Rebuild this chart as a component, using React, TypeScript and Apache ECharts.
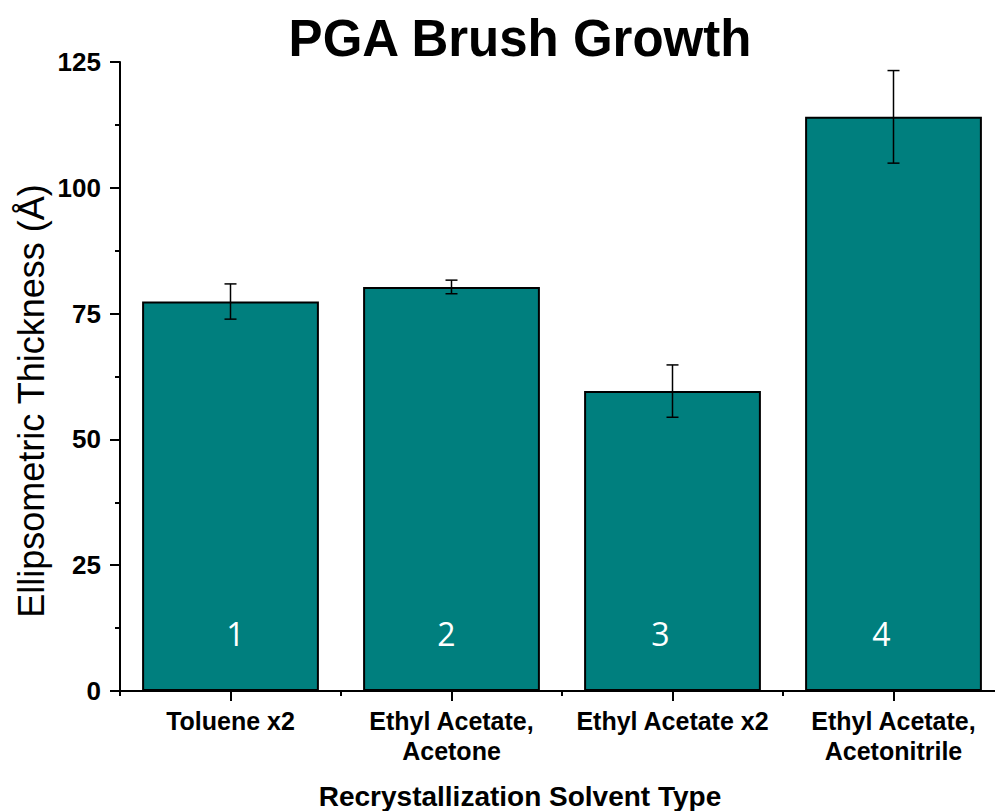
import React, { useEffect, useRef } from "react";
import * as echarts from "echarts";

// Recrystallization solvent conditions (x categories)
const categories = [
  "Toluene x2",
  "Ethyl Acetate,\nAcetone",
  "Ethyl Acetate x2",
  "Ethyl Acetate,\nAcetonitrile",
];
// Mean ellipsometric thickness (Å)
const thickness = [77.4, 80.3, 59.6, 114.1];
// Standard deviation of each mean (Å)
const stdDev = [3.5, 1.35, 5.2, 9.2];
// Sample numbers printed inside the bars
const sampleIds = ["1", "2", "3", "4"];
// Horizontal nudge of each sample number inside its bar
const idOffsets = [5, -5, -12, -12];

const FONT = "'Liberation Sans', Arial, sans-serif";

export default function App() {
  const ref = useRef<HTMLDivElement>(null);

  useEffect(() => {
    if (!ref.current) return;
    const chart = echarts.init(ref.current, undefined, { renderer: "svg" });

    const errorData = thickness.map((v, i) => [i, v - stdDev[i], v + stdDev[i]]);

    chart.setOption({
      animation: false,
      backgroundColor: "#ffffff",
      title: [
        {
          text: "PGA Brush Growth",
          left: 515,
          top: 8,
          textAlign: "center",
          textStyle: { fontFamily: FONT, fontWeight: "bold", fontSize: 51, color: "#000" },
        },
        {
          text: "Recrystallization Solvent Type",
          left: 515,
          top: 777,
          textAlign: "center",
          textStyle: { fontFamily: FONT, fontWeight: "bold", fontSize: 28, color: "#000" },
        },
      ],
      graphic: [
        {
          type: "text",
          x: 31,
          y: 401,
          rotation: Math.PI / 2,
          style: {
            text: "Ellipsometric Thickness (Å)",
            font: "36px 'Liberation Sans', Arial, sans-serif",
            fill: "#000",
            align: "center",
            verticalAlign: "middle",
          },
        },
      ],
      grid: { left: 120, top: 62, width: 884, height: 629, containLabel: false },
      xAxis: [
        {
          type: "category",
          data: categories,
          position: "bottom",
          axisLine: { show: true, lineStyle: { color: "#000", width: 2 } },
          axisTick: { show: true, alignWithLabel: true, length: 10, lineStyle: { color: "#000", width: 2 } },
          axisLabel: {
            interval: 0,
            fontFamily: FONT,
            fontWeight: "bold",
            fontSize: 25,
            color: "#000",
            margin: 15,
            lineHeight: 30,
          },
          splitLine: { show: false },
        },
        {
          type: "category",
          data: categories,
          position: "bottom",
          axisLine: { show: false },
          axisTick: { show: true, alignWithLabel: false, length: 5, lineStyle: { color: "#000", width: 2 } },
          axisLabel: { show: false },
          splitLine: { show: false },
        },
      ],
      yAxis: {
        type: "value",
        min: 0,
        max: 125,
        interval: 25,
        axisLine: { show: true, lineStyle: { color: "#000", width: 2 } },
        axisTick: { show: true, length: 10, lineStyle: { color: "#000", width: 2 } },
        minorTick: { show: true, splitNumber: 2, length: 5, lineStyle: { color: "#000", width: 2 } },
        splitLine: { show: false },
        axisLabel: { fontFamily: FONT, fontWeight: "bold", fontSize: 26, color: "#000", margin: 19 },
      },
      series: [
        {
          type: "bar",
          xAxisIndex: 0,
          data: thickness.map((v, i) => ({
            value: v,
            label: { offset: [idOffsets[i], 0] },
          })),
          barCategoryGap: "20%",
          itemStyle: { color: "#007F7E", borderColor: "#000", borderWidth: 2 },
          label: {
            show: true,
            position: "insideBottom",
            distance: 42,
            formatter: (p: any) => sampleIds[p.dataIndex],
            fontFamily: "'Open Sans', 'Noto Sans', sans-serif",
            fontSize: 32,
            color: "#ffffff",
          },
          z: 2,
        },
        {
          type: "custom",
          xAxisIndex: 0,
          data: errorData,
          encode: { x: 0, y: [1, 2] },
          z: 3,
          renderItem: (_params: any, api: any) => {
            const idx = api.value(0);
            const lo = api.coord([idx, api.value(1)]);
            const hi = api.coord([idx, api.value(2)]);
            const half = 6;
            const style = { stroke: "#000", lineWidth: 1.5 };
            return {
              type: "group",
              children: [
                { type: "line", shape: { x1: hi[0], y1: hi[1], x2: lo[0], y2: lo[1] }, style },
                { type: "line", shape: { x1: hi[0] - half, y1: hi[1], x2: hi[0] + half, y2: hi[1] }, style },
                { type: "line", shape: { x1: lo[0] - half, y1: lo[1], x2: lo[0] + half, y2: lo[1] }, style },
              ],
            };
          },
        },
      ],
    });

    return () => chart.dispose();
  }, []);

  return (
    <div
      ref={ref}
      style={{ position: "fixed", left: 0, top: 0, width: 1012, height: 811, background: "#fff" }}
    />
  );
}
